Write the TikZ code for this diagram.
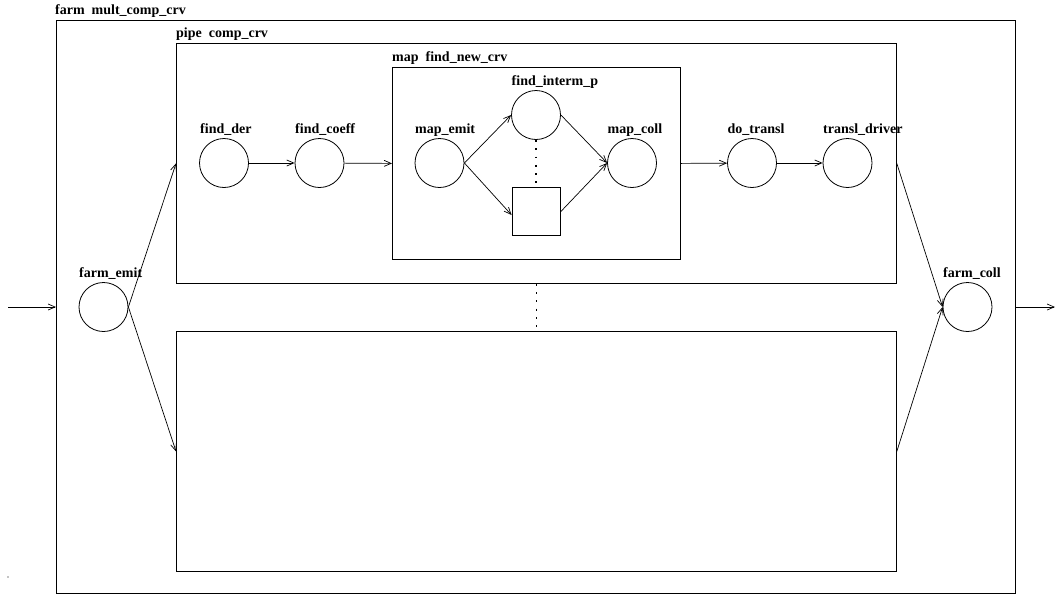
\documentclass[tikz,border=0pt]{standalone}
\usepackage{fontspec}
\setmainfont{Liberation Serif}
\usetikzlibrary{arrows.meta}
\begin{document}
\begin{tikzpicture}[x=1pt,y=-1pt,
  every node/.style={font=\fontsize{14}{16}\selectfont\bfseries},
  proc/.style={draw,circle,line width=0.8pt,minimum size=49pt,inner sep=0pt},
  sq/.style={draw,rectangle,line width=0.8pt,minimum size=48pt,inner sep=0pt},
  frame/.style={draw,rectangle,line width=0.8pt,inner sep=0pt,anchor=north west},
  lbl/.style={anchor=base west,inner sep=0pt},
  conn/.style={line width=0.7pt,-{Straight Barb[length=7pt,width=6pt,line width=0.7pt]}},
  dots/.style={line width=1.8pt,dash pattern=on 1.8pt off 6.5pt}]
\useasboundingbox (0,0) rectangle (1056,595);
% frames
\node[frame,minimum width=959pt,minimum height=573pt] (farm) at (56,20) {};
\node[frame,minimum width=720pt,minimum height=240pt] (pipe) at (176,43) {};
\node[frame,minimum width=720pt,minimum height=240pt] (lower) at (176,331) {};
\node[frame,minimum width=288pt,minimum height=192pt] (map) at (392,67) {};
\node[lbl] (tfarm) at (55,14) {farm\ \ mult\_comp\_crv};
\node[lbl] (tpipe) at (176,37) {pipe\ \ comp\_crv};
\node[lbl] (tmap) at (392,61) {map\ \ find\_new\_crv};
% processes
\node[proc] (femit) at (103.5,307) {};
\node[proc] (fcoll) at (967.5,307) {};
\node[proc] (fder) at (224,163) {};
\node[proc] (fcoeff) at (319.5,163) {};
\node[proc] (memit) at (439.5,163) {};
\node[proc] (fip) at (536,115) {};
\node[sq] (sqn) at (536,211) {};
\node[proc] (mcoll) at (632,163) {};
\node[proc] (dtr) at (752,163) {};
\node[proc] (tdr) at (847.5,163) {};
% labels
\node[lbl] (lfemit) at (79,277) {farm\_emit};
\node[lbl] (lfcoll) at (943,277) {farm\_coll};
\node[lbl] (lfder) at (200,133) {find\_der};
\node[lbl] (lfcoeff) at (295,133) {find\_coeff};
\node[lbl] (lmemit) at (415,133) {map\_emit};
\node[lbl] (lfip) at (511.5,85) {find\_interm\_p};
\node[lbl] (lmcoll) at (607.5,133) {map\_coll};
\node[lbl] (ldtr) at (727.5,133) {do\_transl};
\node[lbl] (ltdr) at (823,133) {transl\_driver};
% io
\coordinate (in) at (8,307);
\coordinate (out) at (1055,307);
\draw[conn] (in) -- (farm.west |- femit);
\draw[conn] (farm.east |- fcoll) -- (out);
% farm edges
\draw[conn] (femit.east) -- (pipe.west);
\draw[conn] (femit.east) -- (lower.west);
\draw[conn] (pipe.east) -- (fcoll.west);
\draw[conn] (lower.east) -- (fcoll.west);
\draw[dots] (pipe.south) -- (lower.north);
% pipe edges
\draw[conn] (fder) -- (fcoeff);
\draw[conn] (fcoeff) -- (map.west);
\draw[conn] (map.east) -- (dtr);
\draw[conn] (dtr) -- (tdr);
% map edges
\draw[conn] (memit.east) -- (fip.west);
\draw[conn] (memit.east) -- ([yshift=-4pt]sqn.west);
\draw[conn] (fip.east) -- (mcoll.west);
\draw[conn] ([yshift=-1pt]sqn.east) -- (mcoll.west);
\draw[dots] (fip.south) -- (sqn.north);
\fill (8,577) circle (0.7);
\end{tikzpicture}
\end{document}
